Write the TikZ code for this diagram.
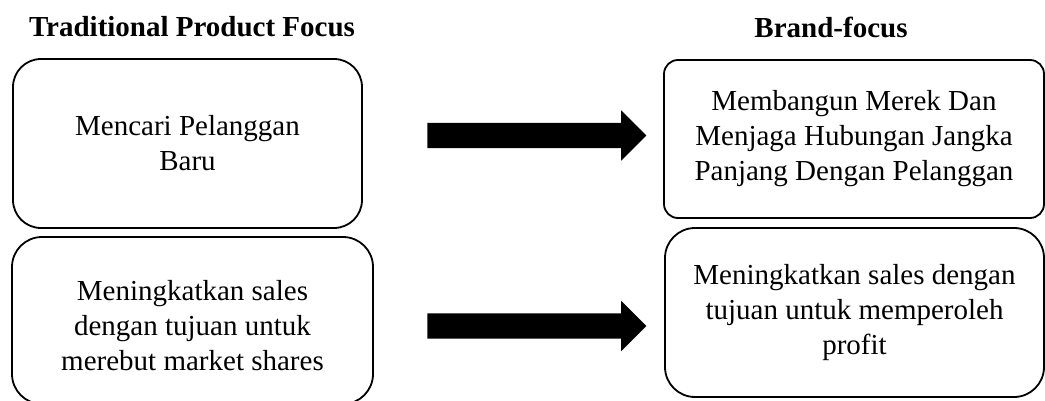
\documentclass[tikz,border=0pt]{standalone}
\usepackage{fontspec}
\setmainfont{Liberation Serif}
\usetikzlibrary{shapes.arrows}
\begin{document}
\begin{tikzpicture}[x=1pt,y=-1pt,
  boxtext/.style={align=center, inner sep=0pt, font=\fontsize{29}{35}\selectfont},
  boxnode/.style={draw, line width=1.8pt, inner sep=0pt, boxtext},
  headnode/.style={font=\fontsize{29}{35}\selectfont\bfseries, inner sep=0pt},
  bigarrow/.style={single arrow, fill=black, draw=none, inner xsep=0pt, inner ysep=12.5pt,
    minimum height=219pt, minimum width=50pt, single arrow head extend=12.5pt,
    single arrow tip angle=90}]
\useasboundingbox (0,0) rectangle (1045,401);
\clip (0,0) rectangle (1045,401);
\fill[white] (0,0) rectangle (1045,401);
\node[headnode] (h1) at (192,27) {Traditional Product Focus};
\node[headnode] (h2) at (831,27) {Brand-focus};
\node[boxnode, rounded corners=28pt, minimum width=349pt, minimum height=169pt] (b1) at (187.5,143.5)
  {Mencari Pelanggan\\Baru};
\node[draw, line width=1.8pt, rounded corners=30pt, minimum width=361pt, minimum height=167pt,
  label={[boxtext, yshift=-5pt]center:{Meningkatkan sales\\dengan tujuan untuk\\merebut market shares}}]
  (b2) at (192.5,320.5) {};
\node[boxnode, rounded corners=14pt, minimum width=380pt, minimum height=158pt] (b3) at (854,139)
  {Membangun Merek Dan\\Menjaga Hubungan Jangka\\Panjang Dengan Pelanggan};
\node[boxnode, rounded corners=30pt, minimum width=379pt, minimum height=169pt] (b4) at (854.5,312.5)
  {Meningkatkan sales dengan\\tujuan untuk memperoleh\\profit};
\node[bigarrow] (a1) at (530.5,135.5) {};
\node[bigarrow] (a2) at (530.5,326) {};
\end{tikzpicture}
\end{document}
